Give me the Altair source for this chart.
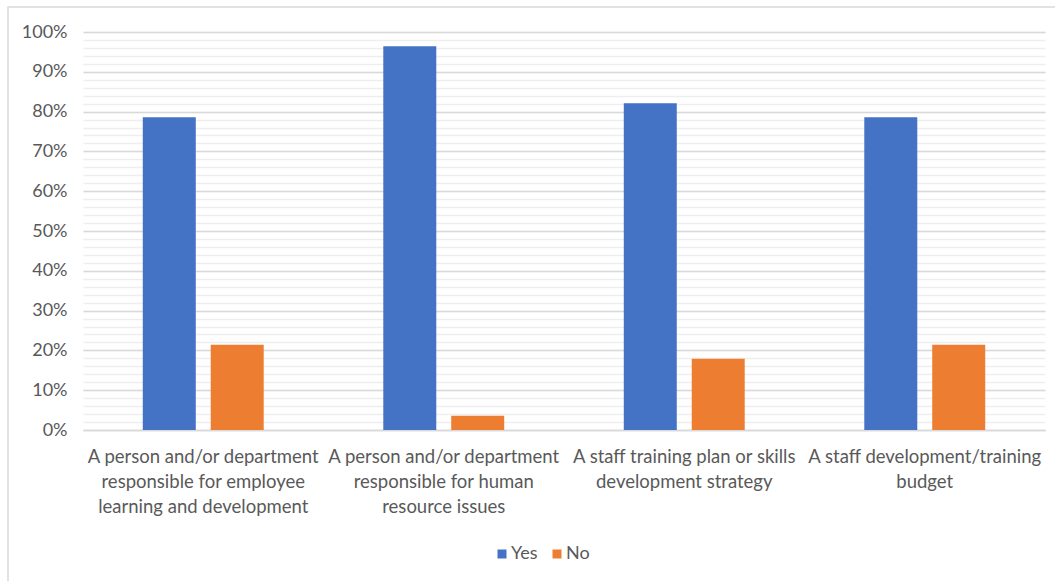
import altair as alt
import pandas as pd

# ---- data ----
label_lines = [
    ["A person and/or department", "responsible for employee", "learning and development"],
    ["A person and/or department", "responsible for human", "resource issues"],
    ["A staff training plan or skills", "development strategy"],
    ["A staff development/training", "budget"],
]
series = ["Yes", "No"]
yes_values = [0.786, 0.964, 0.821, 0.786]
no_values = [0.214, 0.036, 0.179, 0.214]
series_colors = ["#4472C4", "#ED7D31"]
major_ticks = [0, 0.1, 0.2, 0.3, 0.4, 0.5, 0.6, 0.7, 0.8, 0.9, 1.0]
minor_ticks = [i / 50 for i in range(51)]

categories = ["|".join(l) for l in label_lines]
rows = []
for c, y, n in zip(categories, yes_values, no_values):
    rows.append({"category": c, "series": "Yes", "value": y})
    rows.append({"category": c, "series": "No", "value": n})
df = pd.DataFrame(rows)

FONT = "Lato"
TXT = "#595959"

y_scale = alt.Scale(domain=[0, 1], nice=False)

minor = alt.Chart(df).mark_rule(opacity=0).encode(
    y=alt.Y("value:Q", scale=y_scale,
            axis=alt.Axis(orient="right", values=minor_ticks, grid=True,
                          gridColor="#eeeeee", gridWidth=1.5, labels=False,
                          ticks=False, domain=False, title=None))
)

bars = alt.Chart(df).mark_bar().encode(
    x=alt.X("category:N", sort=categories,
            scale=alt.Scale(paddingInner=0, paddingOuter=0),
            axis=alt.Axis(title=None, labelAngle=0, ticks=False,
                          domainColor="#d9d9d9", domainWidth=1.5,
                          labelExpr="split(datum.label, '|')",
                          labelFont=FONT, labelFontSize=18.5, labelColor=TXT,
                          labelLineHeight=25, labelPadding=17, labelLimit=400)),
    xOffset=alt.XOffset("series:N", sort=series,
                        scale=alt.Scale(paddingInner=0.22, paddingOuter=0.88)),
    y=alt.Y("value:Q", scale=y_scale,
            axis=alt.Axis(orient="left", values=major_ticks, format=".0%",
                          grid=True, gridColor="#d9d9d9", gridWidth=1.5,
                          ticks=False, domain=False, title=None,
                          labelFont=FONT, labelFontSize=18, labelColor=TXT,
                          labelPadding=16)),
    color=alt.Color("series:N", sort=series,
                    scale=alt.Scale(domain=series, range=series_colors),
                    legend=alt.Legend(title=None, orient="none", direction="horizontal",
                                      legendX=410, legendY=513, padding=0,
                                      symbolType="square", symbolSize=81,
                                      symbolStrokeWidth=0, symbolOpacity=1,
                                      labelFont=FONT, labelFontSize=18, labelColor=TXT,
                                      labelOffset=0, columnPadding=10)),
)

border = alt.Chart(pd.DataFrame({"a": [0]})).mark_rect(
    fill=None, stroke="#d9d9d9", strokeWidth=1.5
).encode(
    x=alt.value(-75), x2=alt.value(1100), y=alt.value(-25), y2=alt.value(700)
)

chart = alt.layer(minor, bars, border).resolve_axis(y="independent").properties(
    width=962, height=398,
    autosize=alt.AutoSizeParams(type="none"),
    padding={"left": 83, "top": 32, "right": 10, "bottom": 151},
    background="white",
).configure_view(stroke=None)

chart.save("out.html", embed_options={"renderer": "svg", "actions": False})
